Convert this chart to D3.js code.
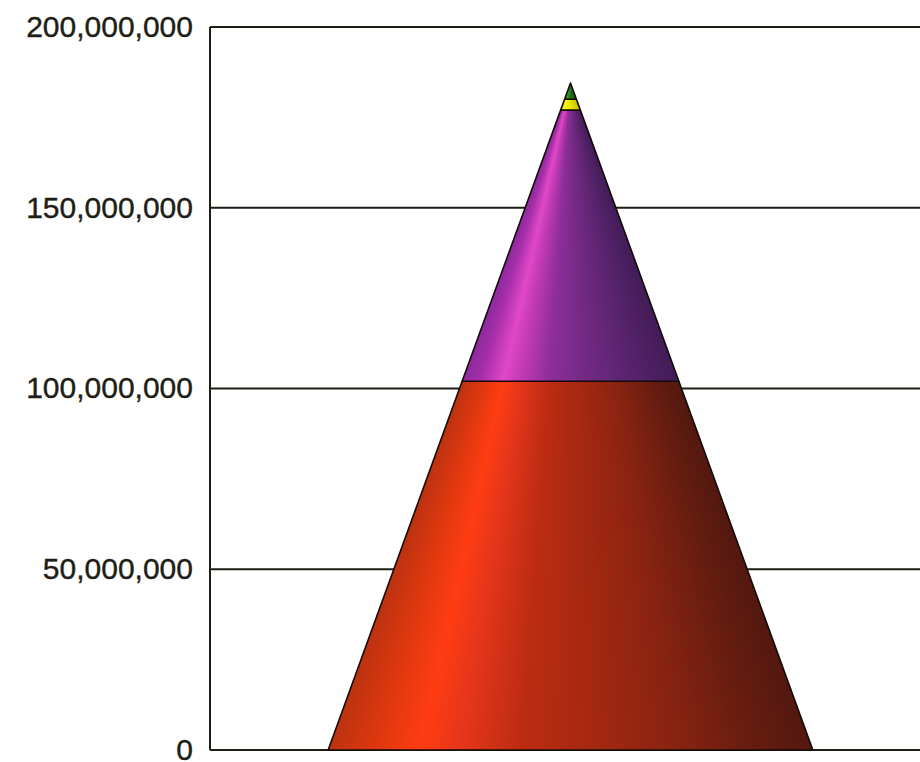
<!DOCTYPE html>
<html>
<head>
<meta charset="utf-8">
<script src="https://cdn.jsdelivr.net/npm/d3@7/dist/d3.min.js"></script>
<style>
  html, body { margin: 0; padding: 0; background: #ffffff; }
  svg { display: block; }
</style>
</head>
<body>
<svg id="chart" width="920" height="762"></svg>
<script>
// Single stacked cone: one category, four stacked series.
const categories = ["Total"];
const seriesNames = ["Series 1", "Series 2", "Series 3", "Series 4"];
const seriesValues = [102000000, 75000000, 3000000, 4500000];
const tickValues = [0, 50000000, 100000000, 150000000, 200000000];

// Shading ramps across the cone surface (left edge → right edge).
const shadeStops = [0, 0.08, 0.19, 0.27, 0.4, 0.55, 0.72, 0.87, 1];
const seriesShades = [
  ["#bc3210", "#d8370f", "#ff3c12", "#e6361a", "#bc2c12", "#a42811", "#882311", "#681d10", "#521810"],
  ["#8c2a9c", "#a62eaa", "#e048c6", "#c23ab4", "#8e2e9a", "#762a86", "#602574", "#4e2064", "#421c56"],
  ["#e0dc00", "#eeea00", "#fffc20", "#f8f400", "#eeea00", "#e4e000", "#d8d400", "#ccc800", "#c0bc00"],
  ["#1f6a18", "#26781c", "#3a9a2a", "#2e8a22", "#26781c", "#22701a", "#1e6618", "#1a5c16", "#165214"]
];

const svg = d3.select("#chart");
const plot = { left: 210, right: 931, top: 27, bottom: 750 };
const ink = "#1e1e16";

const y = d3.scaleLinear().domain([0, 200000000]).range([plot.bottom, plot.top]);
const x = d3.scaleBand().domain(categories).range([plot.left, plot.right]).padding(0.196);

// Gridlines
svg.append("g")
  .selectAll("line")
  .data(tickValues)
  .join("line")
  .attr("x1", plot.left)
  .attr("x2", 920)
  .attr("y1", d => y(d))
  .attr("y2", d => y(d))
  .attr("stroke", ink)
  .attr("stroke-width", 2);

// Value axis
const yAxis = d3.axisLeft(y)
  .tickValues(tickValues)
  .tickSize(0)
  .tickPadding(17)
  .tickFormat(d3.format(","));
const axisG = svg.append("g")
  .attr("transform", `translate(${plot.left},0)`)
  .call(yAxis);
axisG.select(".domain").remove();
axisG.selectAll("text")
  .attr("dy", "0.31em")
  .style("font-family", "'Liberation Sans', Arial, sans-serif")
  .style("font-size", "30px")
  .attr("fill", ink)
  .attr("stroke", ink)
  .attr("stroke-width", 0.4);
svg.append("line")
  .attr("x1", plot.left).attr("x2", plot.left)
  .attr("y1", y(200000000)).attr("y2", y(0))
  .attr("stroke", ink).attr("stroke-width", 2);

// Stack the series for the single category
const total = d3.sum(seriesValues);
const cum = d3.cumsum(seriesValues);
const segments = seriesValues.map((v, i) => ({ name: seriesNames[i], lo: cum[i] - v, hi: cum[i], i }));

const defs = svg.append("defs");

// One horizontal gradient per series, stretched over each row's width
segments.forEach(seg => {
  const grad = defs.append("linearGradient")
    .attr("id", `shade-${seg.i}`)
    .attr("x1", 0).attr("x2", 1).attr("y1", 0).attr("y2", 0);
  grad.selectAll("stop")
    .data(shadeStops)
    .join("stop")
    .attr("offset", d => d)
    .attr("stop-color", (d, k) => seriesShades[seg.i][k]);
});

categories.forEach(cat => {
  const x0 = x(cat);
  const bw = x.bandwidth();
  const cx = x0 + bw / 2;
  const half = bw / 2;
  const halfAt = v => half * (1 - v / total);
  const g = svg.append("g");

  segments.forEach(seg => {
    const hwLo = halfAt(seg.lo), hwHi = halfAt(seg.hi);
    const pts = [
      [cx - hwLo, y(seg.lo)], [cx + hwLo, y(seg.lo)],
      [cx + hwHi, y(seg.hi)], [cx - hwHi, y(seg.hi)]
    ];
    const clipId = `clip-${seg.i}`;
    defs.append("clipPath").attr("id", clipId)
      .append("polygon").attr("points", pts.map(p => p.join(",")).join(" "));

    // Thin horizontal rows, each shaded across the cone's width at that height
    const yTop = Math.floor(y(seg.hi)) - 1, yBot = Math.ceil(y(seg.lo)) + 1;
    const rows = d3.range(yTop, yBot);
    g.append("g").attr("clip-path", `url(#${clipId})`)
      .selectAll("rect")
      .data(rows)
      .join("rect")
      .attr("x", r => cx - halfAt(Math.max(0, y.invert(r + 0.5))))
      .attr("width", r => Math.max(0.5, 2 * halfAt(Math.max(0, y.invert(r + 0.5)))))
      .attr("y", r => r)
      .attr("height", 1.05)
      .attr("shape-rendering", "crispEdges")
      .attr("fill", `url(#shade-${seg.i})`);

    g.append("polygon")
      .attr("points", pts.map(p => p.join(",")).join(" "))
      .attr("fill", "none")
      .attr("stroke", "#140c08")
      .attr("stroke-width", 1.6)
      .attr("stroke-linejoin", "round");
  });
});
</script>
</body>
</html>
